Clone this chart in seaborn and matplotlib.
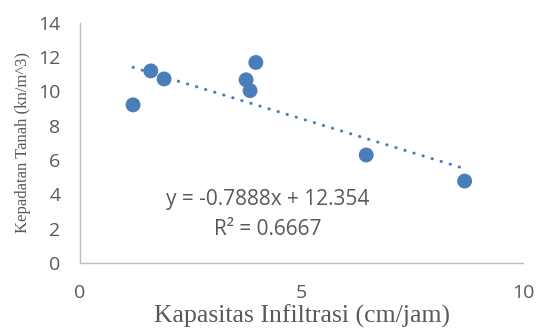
import numpy as np
import pandas as pd
import seaborn as sns
import matplotlib
matplotlib.use('Agg')
import matplotlib.pyplot as plt

# data
infiltrasi = [1.20, 1.60, 1.90, 3.75, 3.84, 3.97, 6.46, 8.68]
kepadatan = [9.22, 11.20, 10.73, 10.68, 10.05, 11.69, 6.30, 4.78]
slope = -0.7888
intercept = 12.354
r2 = 0.6667
x_ticks = [0, 5, 10]
y_ticks = [0, 2, 4, 6, 8, 10, 12, 14]

blue = "#4A7EBB"
gray_text = "#595959"

sns.set_theme(style="white")
plt.rcParams['font.family'] = ['Open Sans', 'DejaVu Sans']

df = pd.DataFrame({"x": infiltrasi, "y": kepadatan})
xs = np.array([min(infiltrasi), max(infiltrasi)])
trend = pd.DataFrame({"x": xs, "y": slope * xs + intercept})

fig = plt.figure(figsize=(5.36, 3.36), dpi=100)
ax = fig.add_axes([0.149, 0.217, 0.827, 0.715])

sns.lineplot(data=trend, x="x", y="y", ax=ax, color=blue, lw=2.2,
             linestyle=(0, (0.1, 3.0)), dash_capstyle='round')
sns.scatterplot(data=df, x="x", y="y", ax=ax, color=blue, s=115,
                edgecolor="none", zorder=3)

ax.set_xlim(0, 10)
ax.set_ylim(0, 14)
ax.set_xticks(x_ticks)
ax.set_yticks(y_ticks)
ax.tick_params(axis='x', length=0, pad=15, labelsize=14, labelcolor=gray_text)
ax.tick_params(axis='y', length=0, pad=14, labelsize=14, labelcolor=gray_text)

for side in ["top", "right"]:
    ax.spines[side].set_visible(False)
for side in ["left", "bottom"]:
    ax.spines[side].set_color("#BFBFBF")
    ax.spines[side].set_linewidth(1.0)

ax.set_xlabel("Kapasitas Infiltrasi (cm/jam)", family="Liberation Serif",
              fontsize=18.5, color=gray_text, labelpad=2)
ax.set_ylabel("Kepadatan Tanah (kn/m^3)", family="Liberation Serif",
              fontsize=12, color=gray_text, labelpad=5)

ax.text(4.24, 3.68, f"y = {slope}x + {intercept}", ha="center", va="center",
        fontsize=15, color=gray_text)
ax.text(4.24, 1.98, f"R² = {r2}", ha="center", va="center",
        fontsize=15, color=gray_text)

plt.savefig("out.png", dpi=100)
